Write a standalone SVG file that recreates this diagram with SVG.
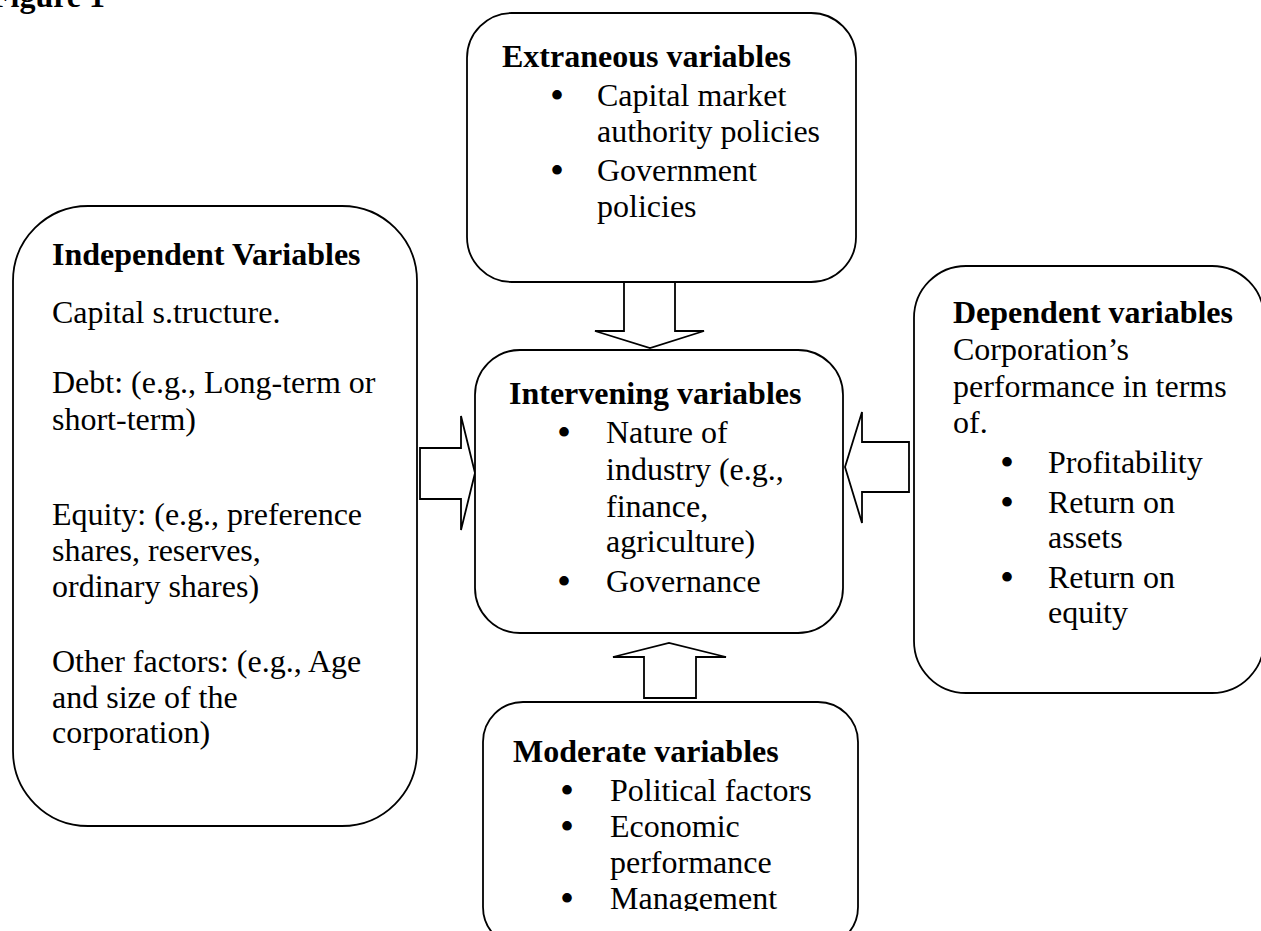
<svg xmlns="http://www.w3.org/2000/svg" width="1261" height="931" viewBox="0 0 1261 931">
<defs>
<style>
.box{fill:#fff;stroke:#000;stroke-width:1.8}
.arr{fill:#fff;stroke:#000;stroke-width:1.8;stroke-linejoin:miter}
text{font-family:"Liberation Serif","Times New Roman",serif;font-size:32px;fill:#000}
.b{font-weight:bold}
.dot{text-anchor:middle;font-size:40px}
</style>
<clipPath id="modClip"><rect x="480" y="700" width="400" height="211"/></clipPath>
</defs>
<rect width="1261" height="931" fill="#fff"/>
<text class="b" x="-9" y="7">Figure 1</text>

<g id="connectors">
<polygon class="arr" points="624,282 675,282 675,331 704,331 650,348 595,331 624,331"/>
<polygon class="arr" points="420,448 461,448 461,416 475,473 461,530 461,499 420,499"/>
<polygon class="arr" points="909,442 862,442 862,412 845,467 862,523 862,492 909,492"/>
<polygon class="arr" points="644,698 696,698 696,657 726,657 669,643 613,657 644,657"/>
</g>

<g id="extraneous">
<rect class="box" x="467" y="13" width="389" height="269" rx="45" ry="45"/>
<text class="b" x="502" y="67">Extraneous variables</text>
<text class="dot" x="557" y="109">•</text>
<text x="597" y="106">Capital market</text>
<text x="597" y="142">authority policies</text>
<text class="dot" x="557" y="184">•</text>
<text x="597" y="181">Government</text>
<text x="597" y="217">policies</text>
</g>

<g id="independent">
<rect class="box" x="13" y="206" width="404" height="620" rx="75" ry="75"/>
<text class="b" x="52" y="265">Independent Variables</text>
<text x="52" y="323">Capital s.tructure.</text>
<text x="52" y="393">Debt: (e.g., Long-term or</text>
<text x="52" y="430">short-term)</text>
<text x="52" y="525">Equity: (e.g., preference</text>
<text x="52" y="561">shares, reserves,</text>
<text x="52" y="597">ordinary shares)</text>
<text x="52" y="672">Other factors: (e.g., Age</text>
<text x="52" y="708">and size of the</text>
<text x="52" y="743">corporation)</text>
</g>

<g id="intervening">
<rect class="box" x="475" y="350" width="368" height="283" rx="45" ry="45"/>
<text class="b" x="509" y="404">Intervening variables</text>
<text class="dot" x="564" y="446">•</text>
<text x="606" y="443">Nature of</text>
<text x="606" y="480">industry (e.g.,</text>
<text x="606" y="517">finance,</text>
<text x="606" y="552">agriculture)</text>
<text class="dot" x="564" y="595">•</text>
<text x="606" y="592">Governance</text>
</g>

<g id="dependent">
<rect class="box" x="914" y="266" width="350" height="427" rx="52" ry="52"/>
<text class="b" x="953" y="323">Dependent variables</text>
<text x="953" y="360">Corporation’s</text>
<text x="953" y="397">performance in terms</text>
<text x="953" y="433">of.</text>
<text class="dot" x="1007" y="476">•</text>
<text x="1048" y="473">Profitability</text>
<text class="dot" x="1007" y="516">•</text>
<text x="1048" y="513">Return on</text>
<text x="1048" y="548">assets</text>
<text class="dot" x="1007" y="591">•</text>
<text x="1048" y="588">Return on</text>
<text x="1048" y="623">equity</text>
</g>

<g id="moderate">
<rect class="box" x="483" y="702" width="375" height="245" rx="40" ry="40"/>
<g clip-path="url(#modClip)">
<text class="b" x="513" y="762">Moderate variables</text>
<text class="dot" x="567" y="804">•</text>
<text x="610" y="801">Political factors</text>
<text class="dot" x="567" y="840">•</text>
<text x="610" y="837">Economic</text>
<text x="610" y="873">performance</text>
<text class="dot" x="567" y="912">•</text>
<text x="610" y="909">Management</text>
</g>
</g>
</svg>
